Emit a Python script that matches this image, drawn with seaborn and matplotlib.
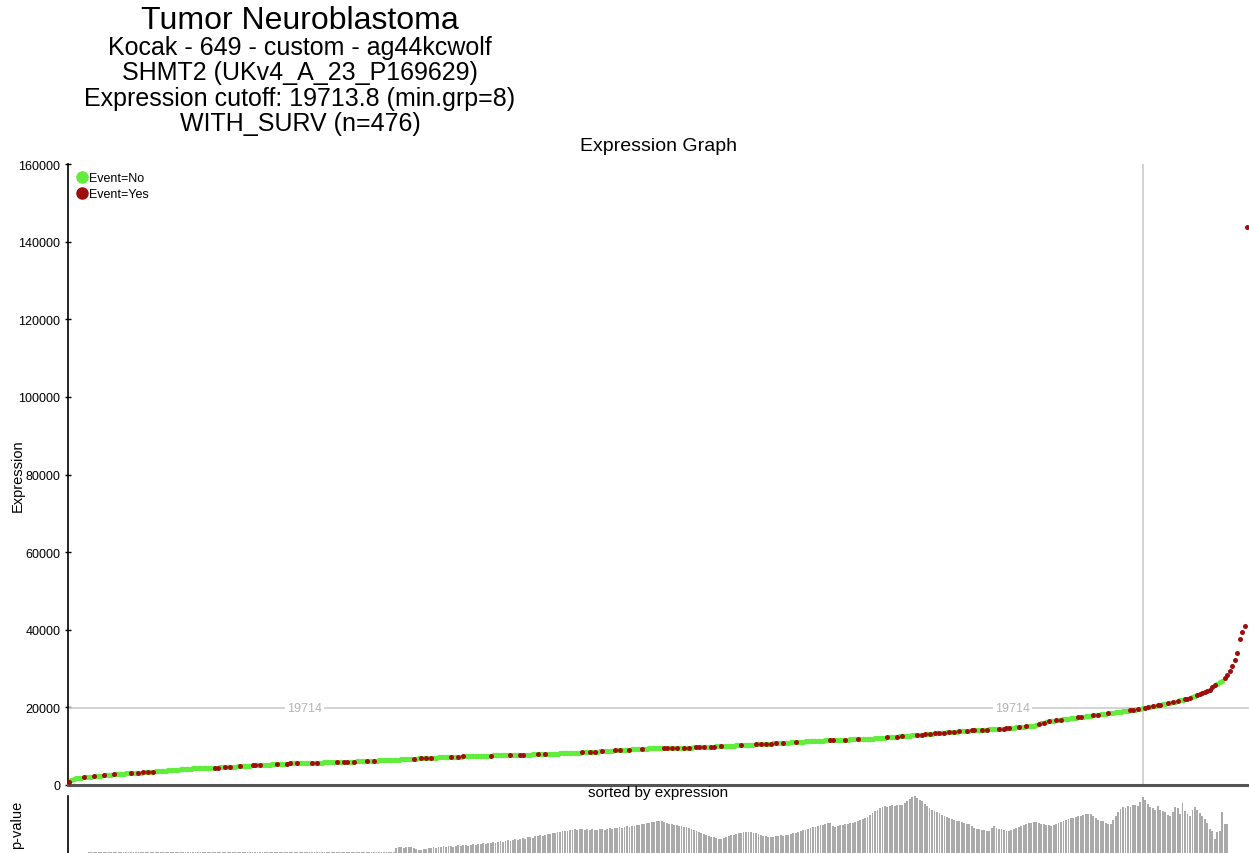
import numpy as np
import pandas as pd
import matplotlib
matplotlib.use("Agg")
import matplotlib.pyplot as plt
import matplotlib.transforms as mtransforms
from matplotlib.lines import Line2D
import seaborn as sns

# sorted expression values (476 samples)
expr = [
    800, 1200, 1500, 1700, 1800, 1900, 1950, 2000,
    2070, 2130, 2200, 2260, 2330, 2400, 2470, 2540, 2610, 2700, 2780,
    2820, 2860, 2900, 2940, 2980, 3020, 3060, 3100, 3140, 3180, 3220, 3260, 3300, 3340, 3380,
    3430, 3480, 3540, 3600, 3650, 3700, 3760, 3810, 3870, 3920, 3980, 4030, 4090, 4140, 4190, 4240, 4290,
    4310, 4330, 4350, 4370, 4390, 4410, 4430, 4450, 4470, 4490,
    4530, 4570, 4610, 4650, 4690, 4720, 4760, 4800, 4840, 4870, 4910, 4950, 4990, 5030, 5070, 5110, 5150,
    5180, 5210, 5250, 5280, 5310, 5350, 5380, 5410, 5440, 5480, 5510, 5550, 5580, 5610, 5650,
    5660, 5680, 5690, 5710, 5720, 5740, 5750, 5760, 5780, 5790, 5810, 5820, 5840, 5850, 5860, 5870, 5890, 5900,
    5930, 5960, 5990, 6010, 6040, 6070, 6100, 6130, 6160, 6190, 6210, 6240, 6270, 6300, 6330, 6360, 6390, 6410, 6440, 6470, 6500,
    6530, 6570, 6600, 6630, 6670, 6700, 6730, 6770, 6800, 6830, 6870, 6900, 6930, 6970, 7000, 7030, 7070, 7100,
    7120, 7150, 7170, 7200, 7220, 7250, 7270, 7300, 7320, 7350, 7370, 7400, 7420, 7450, 7470, 7500, 7520, 7550,
    7570, 7580, 7600, 7610, 7630, 7650, 7660, 7680, 7690, 7710, 7730, 7740, 7760, 7770, 7790, 7800, 7820, 7840, 7850, 7870, 7880, 7900,
    7920, 7950, 7980, 8000, 8020, 8050, 8070, 8100, 8120, 8150, 8170, 8200, 8220, 8250,
    8290, 8330, 8370, 8400, 8440, 8480, 8520, 8560, 8600, 8630, 8670, 8710, 8750, 8790, 8830, 8860, 8900, 8940, 8980, 9020,
    9060, 9090, 9130, 9170, 9210, 9250, 9290, 9320, 9360, 9400,
    9410, 9430, 9440, 9460, 9470, 9490, 9500, 9510, 9530, 9540, 9560, 9570, 9590, 9600, 9610, 9630, 9640, 9660, 9670, 9690, 9700,
    9730, 9770, 9800, 9830, 9870, 9900, 9930, 9970, 10000, 10030, 10070, 10100, 10130, 10170, 10200, 10230, 10270, 10300, 10330, 10370,
    10400, 10430, 10470, 10500, 10530, 10570, 10600, 10630, 10670, 10700,
    10740, 10780, 10820, 10860, 10900, 10930, 10970, 11010, 11050, 11090, 11130, 11170, 11210, 11240, 11280, 11320, 11360, 11400,
    11430, 11450, 11480, 11500, 11530, 11560, 11580, 11610, 11630, 11660, 11690, 11710, 11740, 11770, 11790, 11820, 11840, 11870, 11900, 11920,
    11950, 11970, 12000,
    12050, 12110, 12160, 12210, 12260, 12320, 12370, 12420, 12480, 12530, 12580, 12640, 12690, 12740, 12790, 12850, 12900,
    12950, 13010, 13060, 13120, 13170, 13230, 13280, 13340, 13390, 13450, 13500, 13560, 13610, 13670, 13720, 13780, 13830, 13890, 13940, 14000,
    14040, 14070, 14110, 14140, 14180, 14210, 14250, 14280, 14320, 14350, 14390, 14420, 14460, 14490, 14530, 14560, 14600,
    14670, 14750, 14820, 14890, 14960, 15040, 15110, 15180, 15250, 15330, 15400,
    15630, 15850, 16080, 16300,
    16390, 16470, 16560, 16650, 16730, 16820, 16910, 17000, 17080, 17170, 17260, 17340, 17430, 17520, 17600, 17690, 17780, 17870, 17950, 18040,
    18130, 18210, 18300,
    18390, 18480, 18560, 18650, 18740, 18830, 18910, 19000, 19090, 19180, 19260, 19350, 19440, 19530, 19610, 19714,
    19850, 19990, 20130, 20260, 20400, 20540, 20680, 20820, 20960, 21090, 21230, 21370, 21510, 21650, 21790, 21930, 22060, 22200,
    22450, 22710, 22960, 23220, 23480, 23730, 23990, 24240, 24500,
    25200, 25700, 26100, 26500, 26900, 27600, 28300, 29400, 30700, 32200, 33900, 37600, 39300, 41000, 143700,
]

# positions (in sorted order) of samples with Event=Yes
event_yes = [
    0, 6, 10, 14, 18, 25, 28, 30, 32, 34, 59, 60, 63, 65, 69, 74, 75, 77, 84, 88, 89, 92, 98, 100,
    108, 111, 112, 115, 120, 123, 139, 142, 144, 146, 154, 157, 159, 170, 178, 182, 183, 189, 192,
    207, 210, 212, 215, 220, 222, 226, 231, 240, 241, 243, 245, 248, 250, 253, 254, 256, 259, 260,
    263, 271, 277, 279, 281, 283, 285, 288, 293, 307, 308, 313, 318, 330, 334, 336, 342, 344, 345,
    347, 349, 351, 353, 355, 357, 359, 362, 364, 365, 368, 370, 375, 377, 378, 379, 383, 386, 391,
    393, 395, 398, 400, 407, 408, 413, 415, 419, 428, 429, 431, 434, 435, 437, 439, 440, 443, 445,
    447, 450, 451, 452, 455, 456, 457, 458, 459, 460, 461, 462, 466, 467, 468, 469, 470, 471, 472,
    473, 474, 475,
]

cutoff = 19713.8
min_grp = 8

# p-value panel bar heights (split positions 8..467)
pscore = [
    4.4, 4.4, 4.4, 4.4, 4.4, 4.4, 4.4, 4.4, 4.4, 4.4, 4.4, 4.4, 4.4, 4.4, 4.4, 4.4, 4.4, 4.4, 4.4, 4.4,
    4.4, 4.4, 4.4, 4.4, 4.4, 4.4, 4.4, 4.4, 4.4, 4.4, 4.4, 4.4, 4.4, 4.4, 4.4, 4.4, 4.4, 4.4, 4.4, 4.4,
    4.4, 4.4, 4.4, 4.4, 4.4, 4.4, 4.4, 4.4, 4.4, 4.4, 4.4, 4.4, 4.4, 4.4, 4.4, 4.4, 4.4, 4.4, 4.4, 4.4,
    4.4, 4.4, 4.4, 4.4, 4.4, 4.4, 4.4, 4.4, 4.4, 4.4, 4.4, 4.4, 4.4, 4.4, 4.4, 4.4, 4.4, 4.4, 4.4, 4.4,
    4.4, 4.4, 4.4, 4.4, 4.4, 4.4, 4.4, 4.4, 4.4, 4.4, 4.4, 4.4, 4.4, 4.4, 4.4, 4.4, 4.4, 4.4, 4.4, 4.4,
    4.4, 4.4, 4.4, 4.4, 4.4, 4.4, 4.4, 4.4, 4.4, 4.4, 4.4, 4.4, 4.4, 4.4, 4.4, 4.4, 4.4, 4.4, 4.4, 4.4,
    4.4, 4.4, 4.4, 4.4,
    4.8, 4.9, 4.9, 4.8, 4.9, 4.9, 4.9, 4.8, 4.7, 4.6, 4.6, 4.7, 4.7, 4.8, 4.8, 4.9, 4.8, 4.9, 4.9, 5.0,
    4.9, 5.0, 5.0, 4.9, 5.0, 5.1, 5.0, 5.1, 5.1, 5.0, 5.1, 5.2, 5.1, 5.2, 5.2, 5.3, 5.2, 5.3, 5.3, 5.4,
    5.3, 5.4, 5.5, 5.4, 5.5, 5.6, 5.5, 5.6, 5.7, 5.6, 5.7, 5.8, 5.7, 5.9, 5.9, 5.8, 6.0, 6.0, 6.1, 6.0,
    6.1, 6.2, 6.2, 6.3, 6.3, 6.4, 6.4, 6.5, 6.5, 6.5, 6.6, 6.6, 6.7, 6.6, 6.7, 6.7, 6.6, 6.7, 6.6, 6.7,
    6.6, 6.6, 6.7, 6.7, 6.6, 6.7, 6.8, 6.7, 6.8, 6.8, 6.9, 6.8, 6.9, 7.0, 6.9, 7.0, 7.0, 7.1, 7.1, 7.2,
    7.2, 7.3, 7.3, 7.4, 7.4, 7.5, 7.5, 7.5, 7.4, 7.3, 7.2, 7.2, 7.1, 7.1, 7.0, 7.0, 6.9, 6.9, 6.8, 6.7,
    6.6, 6.5, 6.4, 6.3, 6.2, 6.1, 6.0, 5.9, 5.9, 5.8, 5.7, 5.7, 5.8, 5.9, 6.0, 6.1, 6.1, 6.2, 6.3, 6.3,
    6.4, 6.4, 6.4, 6.4, 6.3, 6.3, 6.2, 6.1, 6.0, 6.0, 5.9, 5.9, 5.9, 6.0, 6.0, 6.1, 6.0, 6.1, 6.1, 6.2,
    6.3, 6.3, 6.4, 6.5, 6.6, 6.6, 6.7, 6.8, 6.9, 6.9, 7.0, 7.1, 7.1, 7.2, 7.3, 7.3, 7.0, 6.9, 7.0, 7.1,
    7.1, 7.2, 7.2, 7.3, 7.3, 7.4, 7.5, 7.6, 7.7, 7.8, 7.9, 8.1, 8.3, 8.5, 8.6, 8.8, 8.9, 9.0, 8.9, 9.0,
    9.1, 9.0, 9.1, 9.1, 9.1, 9.3, 9.5, 9.7, 9.9, 10.0, 9.8, 9.6, 9.5, 9.2, 9.0, 8.8, 8.6, 8.5, 8.4, 8.3,
    8.1, 8.0, 7.9, 7.8, 7.7, 7.6, 7.5, 7.5, 7.4, 7.3, 7.2, 7.2, 7.0, 6.8, 6.7, 6.7, 6.6, 6.6, 6.5, 6.5,
    6.8, 7.0, 6.8, 6.7, 6.7, 6.6, 6.5, 6.5, 6.6, 6.7, 6.8, 6.9, 7.0, 7.1, 7.2, 7.3, 7.3, 7.4, 7.4, 7.3,
    7.2, 7.2, 7.1, 7.1, 7.0, 7.1, 7.2, 7.3, 7.4, 7.5, 7.6, 7.7, 7.8, 7.8, 7.9, 8.0, 8.0, 8.1, 8.2, 8.2,
    8.2, 8.0, 7.8, 7.6, 7.5, 7.5, 7.3, 7.2, 7.2, 7.6, 8.0, 8.4, 8.7, 8.9, 8.8, 9.0, 8.9, 9.1, 9.1, 9.0,
    9.4, 9.9, 9.6, 9.2, 8.9, 8.8, 8.6, 9.0, 8.6, 8.5, 8.4, 8.1, 8.0, 8.4, 8.9, 8.8, 8.2, 9.3, 8.5, 8.2,
    8.0, 8.6, 8.9, 8.6, 8.3, 8.0, 7.7, 7.3, 6.7, 6.5, 5.7, 6.4, 6.5, 8.4, 7.2, 7.2,
]

title_lines = [
    "Tumor Neuroblastoma",
    "Kocak - 649 - custom - ag44kcwolf",
    "SHMT2 (UKv4_A_23_P169629)",
    "Expression cutoff: 19713.8 (min.grp=8)",
    "WITH_SURV (n=476)",
]
yticks = [0, 20000, 40000, 60000, 80000, 100000, 120000, 140000, 160000]

green = "#62ec3c"
red = "#a00d0d"

df = pd.DataFrame({"idx": np.arange(len(expr)), "expr": expr})
df["event"] = np.where(df["idx"].isin(event_yes), "Yes", "No")

sns.set_style("white")
plt.rcParams["font.family"] = ["Liberation Sans", "DejaVu Sans"]
plt.rcParams["text.color"] = "black"
plt.rcParams["axes.labelcolor"] = "black"
plt.rcParams["ytick.color"] = "black"

W, H = 1249, 854
fig = plt.figure(figsize=(W / 100, H / 100), dpi=100)

def px_axes(x0, y0, x1, y1):
    return fig.add_axes([x0 / W, 1 - y1 / H, (x1 - x0) / W, (y1 - y0) / H])

ax = px_axes(68, 165, 1249, 786)
ax2 = px_axes(68, 797, 1249, 897)

n = len(expr)
cut_idx = int(np.argmax(np.array(expr) >= cutoff))

# guide lines
ax.axhline(cutoff, color="#cccccc", lw=1.2, zorder=1)
ax.plot([cut_idx, cut_idx], [0, 160000], color="#cccccc", lw=1.2, zorder=1)
tr = mtransforms.blended_transform_factory(ax.transAxes, ax.transData)
for fx in (0.2, 0.8):
    ax.text(fx, cutoff, f"{cutoff:.0f}", transform=tr, ha="center", va="center",
            fontsize=9, color="#b5b5b5",
            bbox=dict(facecolor="white", edgecolor="none", pad=1.5), zorder=2)

sns.scatterplot(data=df[df["event"] == "No"], x="idx", y="expr", color=green,
                s=15, linewidth=0, ax=ax, legend=False, zorder=3)
sns.scatterplot(data=df[df["event"] == "Yes"], x="idx", y="expr", color=red,
                s=13, linewidth=0, ax=ax, legend=False, zorder=4)

ax.set_xlim(-0.4, 475.8)
ax.set_ylim(0, 160000)
ax.set_yticks(yticks)
ax.set_yticklabels([str(t) for t in yticks], fontsize=9)
ax.set_xticks([])
ax.set_xlabel("")
ax.set_ylabel("Expression", fontsize=10.5)
ax.yaxis.set_label_coords(-0.037, 0.5)
ax.tick_params(axis="y", direction="inout", length=5, width=1, color="black", pad=3, left=True)
for s in ("top", "right"):
    ax.spines[s].set_visible(False)
ax.spines["left"].set_color("black")
ax.spines["left"].set_linewidth(1.2)
ax.spines["bottom"].set_color("#555555")
ax.spines["bottom"].set_linewidth(2.2)
ax.set_title("Expression Graph", fontsize=14, pad=10)

handles = [
    Line2D([], [], marker="o", ls="", color=green, markersize=8, label="Event=No"),
    Line2D([], [], marker="o", ls="", color=red, markersize=8, label="Event=Yes"),
]
ax.legend(handles=handles, loc="upper left", frameon=False, fontsize=9,
          handletextpad=0.0, labelspacing=0.3, borderaxespad=0.2, borderpad=0.45,
          handlelength=1.0)

# p-value panel
pidx = np.arange(min_grp, min_grp + len(pscore))
ax2.bar(pidx, pscore, width=0.75, color="#aaaaaa", edgecolor="none")
ax2.set_xlim(-0.4, 475.8)
ax2.set_ylim(0, 10)
ax2.set_xticks([])
ax2.set_yticks([])
for s in ("top", "right", "bottom"):
    ax2.spines[s].set_visible(False)
ax2.spines["left"].set_color("black")
ax2.spines["left"].set_linewidth(1.2)
ax2.set_ylabel("p-value", fontsize=10.5)
ax2.yaxis.set_label_coords(-0.037, 0.72)

fig.text(0.5 * (68 + 1249) / W, 1 - 793 / H, "sorted by expression",
         ha="center", va="center", fontsize=11)

ys = [21, 48, 73, 99, 124]
sizes = [23, 18, 18, 18, 18]
for t, y, fs in zip(title_lines, ys, sizes):
    fig.text(300 / W, 1 - y / H, t, ha="center", va="center", fontsize=fs)

fig.savefig("out.png", dpi=100)
